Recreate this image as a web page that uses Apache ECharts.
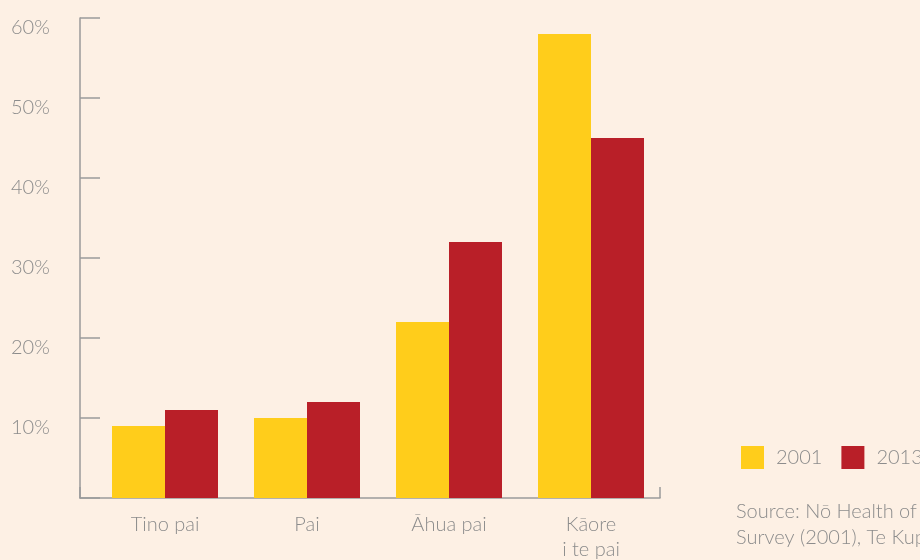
<!DOCTYPE html>
<html>
<head>
<meta charset="utf-8">
<script src="https://cdn.jsdelivr.net/npm/echarts@6/dist/echarts.min.js"></script>
<style>
  html, body { margin: 0; padding: 0; background: #fdf0e4; }
  #chart { width: 920px; height: 560px; }
</style>
</head>
<body>
<div id="chart"></div>
<script>
var categories = ['Tino pai', 'Pai', 'Āhua pai', 'Kāore\ni te pai'];
var values2001 = [9, 10, 22, 58];
var values2013 = [11, 12, 32, 45];
var seriesNames = ['2001', '2013'];
var sourceText = 'Source: Nō Health of the Māori Language\nSurvey (2001), Te Kupenga (2013)';

var textGrey = '#8c8c8c';
var axisGrey = '#9a9a9a';
var font = 'Lato';

var chart = echarts.init(document.getElementById('chart'));
var option = {
  backgroundColor: '#fdf0e4',
  textStyle: { fontFamily: font, fontWeight: 300 },
  legend: {
    data: seriesNames,
    orient: 'horizontal',
    left: 741,
    top: 446,
    width: 400,
    padding: 0,
    itemWidth: 23,
    itemHeight: 23,
    itemGap: 19,
    icon: 'rect',
    textStyle: { color: textGrey, fontSize: 20, fontFamily: font, fontWeight: 300, padding: [0, 0, 0, 7] }
  },
  title: {
    text: sourceText,
    left: 736,
    top: 499,
    padding: 0,
    textStyle: { color: textGrey, fontSize: 20, fontFamily: font, fontWeight: 300, lineHeight: 26 }
  },
  grid: [
    // bars
    { left: 94, right: 258, top: 18, bottom: 62, outerBoundsMode: 'none' },
    // frame: y axis and baseline
    { left: 80, right: 260, top: 18, bottom: 62, outerBoundsMode: 'none' }
  ],
  xAxis: [
    {
      type: 'category',
      gridIndex: 0,
      data: categories,
      axisLine: { show: false },
      axisTick: { show: false },
      axisLabel: { color: textGrey, fontSize: 20, fontFamily: font, fontWeight: 300, margin: 14, lineHeight: 25 }
    },
    {
      type: 'value',
      gridIndex: 1,
      min: 0,
      max: 1,
      interval: 1,
      axisLine: { show: true, lineStyle: { color: axisGrey, width: 1.5 } },
      axisTick: { show: true, inside: true, length: 11, lineStyle: { color: axisGrey, width: 1.5 } },
      axisLabel: { show: false },
      splitLine: { show: false }
    }
  ],
  yAxis: [
    {
      type: 'value',
      gridIndex: 0,
      min: 0,
      max: 60,
      interval: 10,
      show: false
    },
    {
      type: 'value',
      gridIndex: 1,
      min: 0,
      max: 60,
      interval: 10,
      axisLine: { show: true, lineStyle: { color: axisGrey, width: 1.5 } },
      axisTick: { show: true, inside: true, length: 20, lineStyle: { color: axisGrey, width: 1.5 } },
      splitLine: { show: false },
      axisLabel: {
        color: textGrey,
        fontSize: 20,
        fontFamily: font,
        fontWeight: 300,
        align: 'left',
        verticalAlign: 'top',
        margin: 69,
        formatter: function (v) { return v === 0 ? '' : v + '%'; }
      }
    }
  ],
  series: [
    {
      name: seriesNames[0],
      type: 'bar',
      xAxisIndex: 0,
      yAxisIndex: 0,
      data: values2001,
      barWidth: 53,
      barGap: '0%',
      itemStyle: { color: '#ffcd1b' }
    },
    {
      name: seriesNames[1],
      type: 'bar',
      xAxisIndex: 0,
      yAxisIndex: 0,
      data: values2013,
      barWidth: 53,
      barGap: '0%',
      itemStyle: { color: '#b91f28' }
    }
  ]
};
chart.setOption(option);
</script>
</body>
</html>
